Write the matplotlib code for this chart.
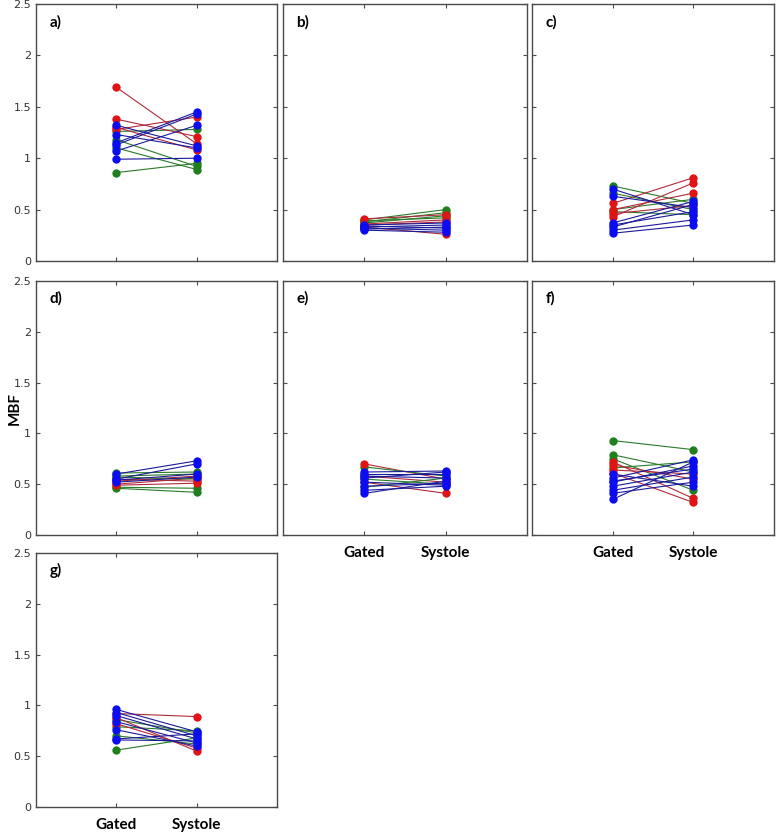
import matplotlib
matplotlib.use("Agg")
import matplotlib.pyplot as plt

# ---- data (MBF values: gated vs systole), group colour code per subject ----
conditions = ["Gated", "Systole"]
panel_names = ["a)", "b)", "c)", "d)", "e)", "f)", "g)"]
yticks = [0, 0.5, 1, 1.5, 2, 2.5]
yticklabels = ["0", "0.5", "1", "1.5", "2", "2.5"]

a_gated   = [1.26, 1.18, 1.10, 0.86, 1.69, 1.38, 1.28, 1.30, 1.32, 1.23, 1.15, 1.13, 1.07, 0.99]
a_systole = [1.28, 0.92, 0.89, 0.95, 1.14, 1.21, 1.40, 1.08, 1.12, 1.10, 1.45, 1.43, 1.32, 1.00]
a_group   = ["g", "g", "g", "g", "r", "r", "r", "r", "b", "b", "b", "b", "b", "b"]

b_gated   = [0.40, 0.38, 0.37, 0.39, 0.41, 0.36, 0.33, 0.35, 0.35, 0.33, 0.31, 0.32, 0.34, 0.30]
b_systole = [0.50, 0.47, 0.44, 0.42, 0.45, 0.40, 0.26, 0.38, 0.37, 0.35, 0.33, 0.30, 0.32, 0.28]
b_group   = ["g", "g", "g", "g", "r", "r", "r", "r", "b", "b", "b", "b", "b", "b"]

c_gated   = [0.73, 0.66, 0.50, 0.48, 0.56, 0.43, 0.50, 0.46, 0.70, 0.63, 0.37, 0.33, 0.30, 0.27, 0.35]
c_systole = [0.56, 0.50, 0.60, 0.45, 0.81, 0.76, 0.66, 0.54, 0.45, 0.52, 0.58, 0.55, 0.40, 0.35, 0.48]
c_group   = ["g", "g", "g", "g", "r", "r", "r", "r", "b", "b", "b", "b", "b", "b", "b"]

d_gated   = [0.55, 0.50, 0.49, 0.53, 0.61, 0.58, 0.46, 0.47, 0.57, 0.60, 0.55, 0.52, 0.54]
d_systole = [0.53, 0.56, 0.51, 0.58, 0.62, 0.60, 0.42, 0.46, 0.55, 0.73, 0.70, 0.57, 0.60]
d_group   = ["r", "r", "r", "r", "g", "g", "g", "g", "g", "b", "b", "b", "b"]

e_gated   = [0.70, 0.52, 0.58, 0.67, 0.55, 0.47, 0.62, 0.60, 0.56, 0.52, 0.48, 0.44, 0.41, 0.58]
e_systole = [0.55, 0.41, 0.52, 0.58, 0.50, 0.56, 0.63, 0.60, 0.62, 0.49, 0.51, 0.48, 0.53, 0.56]
e_group   = ["r", "r", "r", "g", "g", "g", "b", "b", "b", "b", "b", "b", "b", "b"]

f_gated   = [0.93, 0.79, 0.75, 0.66, 0.72, 0.61, 0.64, 0.69, 0.56, 0.52, 0.48, 0.44, 0.41, 0.35, 0.60, 0.53]
f_systole = [0.84, 0.62, 0.44, 0.72, 0.36, 0.32, 0.60, 0.55, 0.74, 0.68, 0.62, 0.57, 0.52, 0.72, 0.48, 0.65]
f_group   = ["g", "g", "g", "g", "r", "r", "r", "r", "b", "b", "b", "b", "b", "b", "b", "b"]

g_gated   = [0.79, 0.86, 0.70, 0.56, 0.92, 0.88, 0.82, 0.96, 0.93, 0.90, 0.84, 0.76, 0.67, 0.66]
g_systole = [0.75, 0.73, 0.62, 0.68, 0.89, 0.55, 0.58, 0.74, 0.70, 0.67, 0.63, 0.60, 0.72, 0.65]
g_group   = ["g", "g", "g", "g", "r", "r", "r", "b", "b", "b", "b", "b", "b", "b"]

panels = [
    (a_gated, a_systole, a_group),
    (b_gated, b_systole, b_group),
    (c_gated, c_systole, c_group),
    (d_gated, d_systole, d_group),
    (e_gated, e_systole, e_group),
    (f_gated, f_systole, f_group),
    (g_gated, g_systole, g_group),
]

marker_colors = {"r": "#e01414", "g": "#1f7f1f", "b": "#0c0cf0"}
line_colors = {"r": "#b02a3a", "g": "#2a7a2a", "b": "#1a1a9a"}

# ---- layout (pixel boxes converted to figure fractions) ----
W, H = 778, 834
cols = [(36, 277), (283, 527), (532, 774)]
rows = [(4, 261), (281, 535), (553, 807)]
slots = [(0, 0), (0, 1), (0, 2), (1, 0), (1, 1), (1, 2), (2, 0)]

fig = plt.figure(figsize=(W / 100, H / 100), dpi=100)
spine_color = "#4a4a4a"

for i, ((gv, sv, grp), (r, c)) in enumerate(zip(panels, slots)):
    x0, x1 = cols[c]
    y0, y1 = rows[r]
    ax = fig.add_axes([x0 / W, 1 - y1 / H, (x1 - x0) / W, (y1 - y0) / H])
    for gval, sval, k in zip(gv, sv, grp):
        ax.plot([1, 2], [gval, sval], "-", color=line_colors[k], lw=0.8, zorder=2)
    for k in ["g", "r", "b"]:
        xs1 = [gval for gval, kk in zip(gv, grp) if kk == k]
        xs2 = [sval for sval, kk in zip(sv, grp) if kk == k]
        ax.plot([1] * len(xs1), xs1, "o", color=marker_colors[k], ms=6, mec="none", zorder=3)
        ax.plot([2] * len(xs2), xs2, "o", color=marker_colors[k], ms=6, mec="none", zorder=3)
    ax.set_xlim(0, 3)
    ax.set_ylim(0, 2.5)
    ax.set_yticks(yticks)
    ax.set_xticks([1, 2])
    ax.tick_params(direction="in", length=3, width=0.8, top=True, right=True,
                   colors=spine_color, labelcolor="#333333", labelsize=8)
    if c == 0:
        ax.set_yticklabels(yticklabels, fontfamily="DejaVu Sans")
    else:
        ax.set_yticklabels([])
    if i >= 4:
        ax.set_xticklabels(conditions, fontfamily="Lato", fontweight="bold",
                           fontsize=11, color="black")
        ax.tick_params(axis="x", pad=8)
    else:
        ax.set_xticklabels([])
    for s in ax.spines.values():
        s.set_color(spine_color)
        s.set_linewidth(1.0)
    ax.text(0.055, 0.93, panel_names[i], transform=ax.transAxes, fontfamily="Lato",
            fontweight="bold", fontsize=11, ha="left", va="center", color="black")

fig.text(15 / W, 1 - 408 / H, "MBF", rotation=90, ha="center", va="center",
         fontfamily="Lato", fontweight="bold", fontsize=11)

fig.savefig("out.png", dpi=100)
